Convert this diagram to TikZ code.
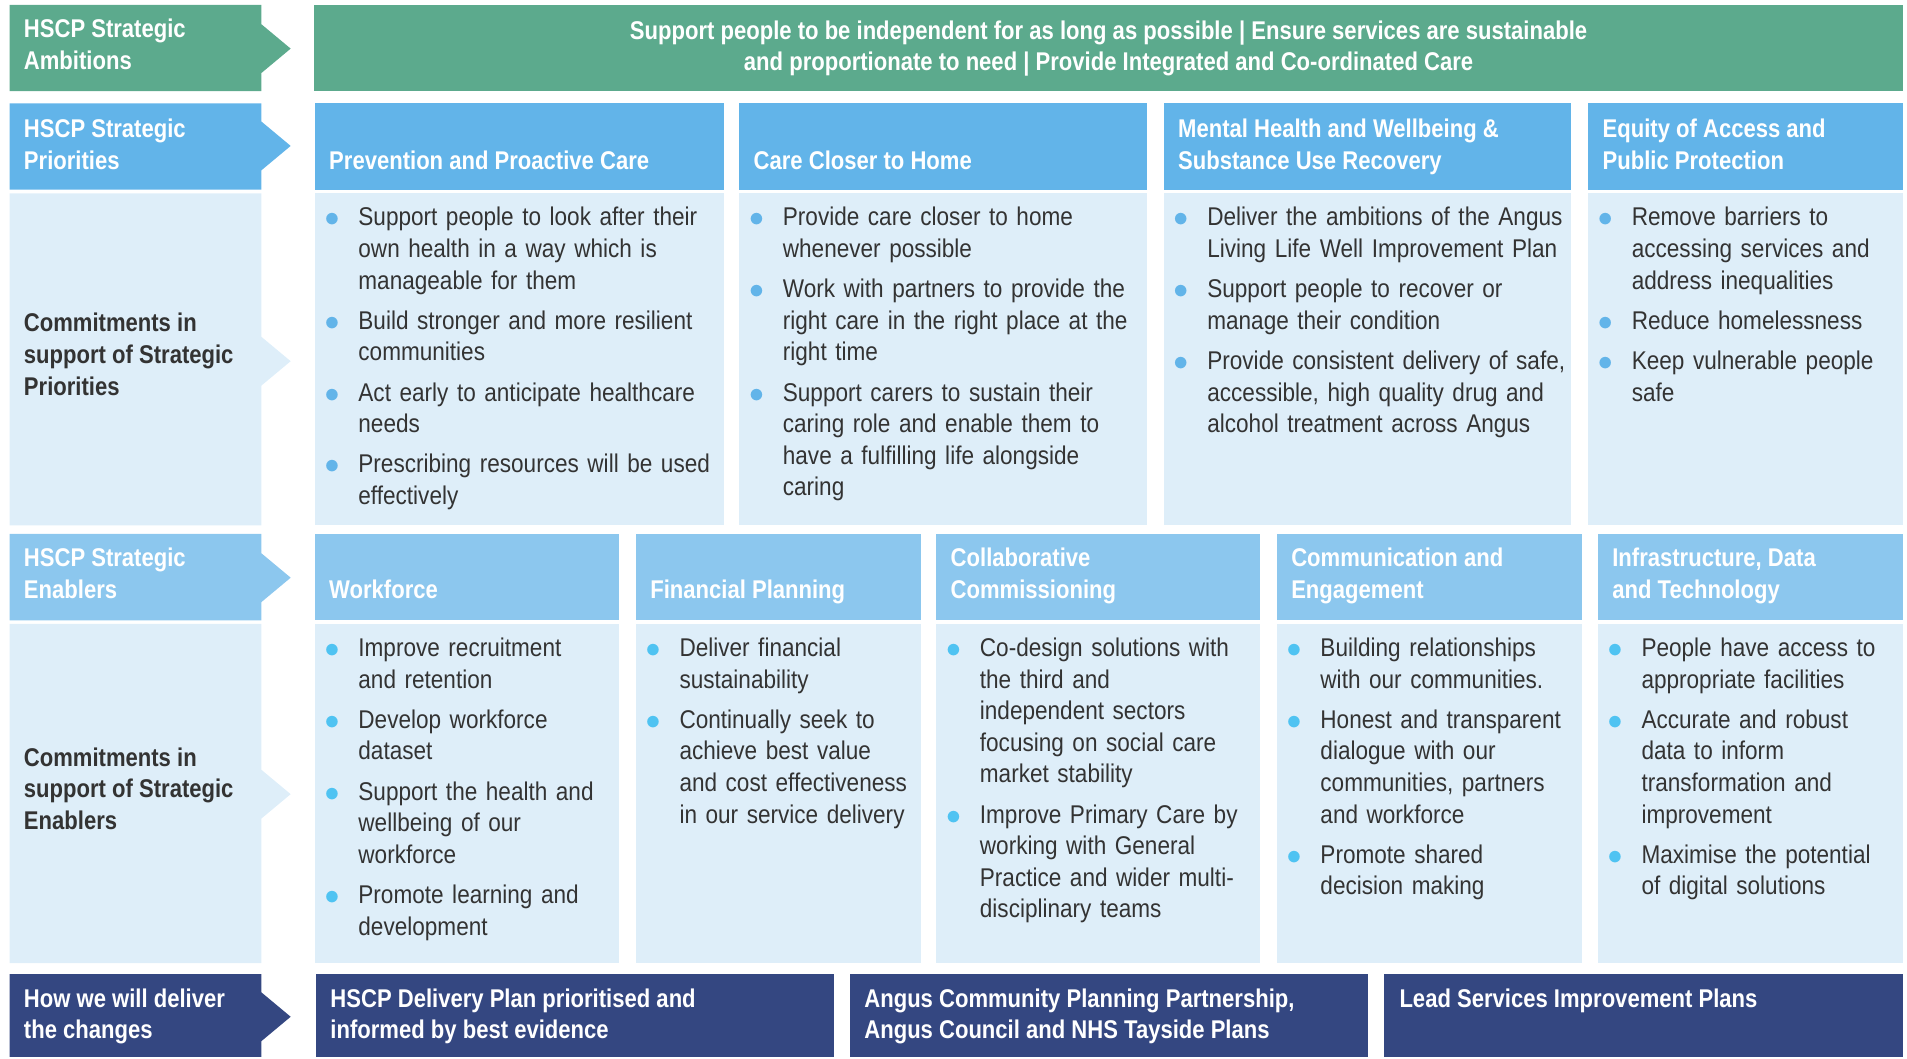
\documentclass[tikz,border=0pt]{standalone}
\usepackage{fontspec}
\setmainfont{Liberation Sans}[FakeStretch=0.88, BoldFeatures={FakeStretch=0.86}]
\usetikzlibrary{positioning}
\definecolor{hgreen}{HTML}{5CAA8D}
\definecolor{hblue}{HTML}{62B4E9}
\definecolor{hsky}{HTML}{8CC7EE}
\definecolor{hpale}{HTML}{DEEEF9}
\definecolor{hnavy}{HTML}{344781}
\definecolor{hdot}{HTML}{62B4E9}
\definecolor{hcyan}{HTML}{4FC3F2}
\definecolor{htext}{HTML}{333333}

\newcommand{\hfont}{\fontsize{6}{7.4}\selectfont}

% bullet list for the commitment boxes
\newenvironment{hlist}[1]{%
  \begin{list}{\textcolor{#1}{$\bullet$}}{%
    \setlength{\leftmargin}{0.35cm}\setlength{\labelwidth}{0.3cm}%
    \setlength{\labelsep}{0.15cm}\setlength{\itemsep}{2pt}\setlength{\itemindent}{0pt}%
    \setlength{\parsep}{0pt}\setlength{\topsep}{0pt}\setlength{\partopsep}{0pt}}}%
  {\end{list}}

% row label on the left with its point: colour, top, bottom, middle
\newcommand{\rowtag}[4]{%
  \fill[#1] (0.08,#2) -- (2.15,#2) -- (2.15,#4+0.2) -- (2.39,#4)
    -- (2.15,#4-0.2) -- (2.15,#3) -- (0.08,#3) -- cycle;}

% base of a tag or head node is the baseline of its last line
\tikzset{
  tag/.style={anchor=base west, align=left, inner sep=0, font=\hfont\bfseries, text=white},
  head/.style={anchor=base west, align=left, inner sep=0, font=\hfont\bfseries, text=white},
  body/.style={anchor=north west, inner sep=0, text width=5cm, align=left, font=\hfont, text=htext}
}

\begin{document}
\begin{tikzpicture}
  \useasboundingbox (0,0) rectangle (15.68,-8.70);

  % ambitions
  \rowtag{hgreen}{-0.04}{-0.75}{-0.40}
  \fill[hgreen] (2.58,-0.04) rectangle (15.65,-0.75);
  \node[tag] (ambtag) at (0.19,-0.57) {HSCP Strategic\\Ambitions};
  \node[head, anchor=center, align=center] (ambtext) at (9.115,-0.40)
    {Support people to be independent for as long as possible | Ensure services are sustainable\\
     and proportionate to need | Provide Integrated and Co-ordinated Care};

  % priorities
  \rowtag{hblue}{-0.85}{-1.56}{-1.20}
  \fill[hblue] (2.59,-0.85) rectangle (5.95,-1.56);
  \fill[hblue] (6.08,-0.85) rectangle (9.43,-1.56);
  \fill[hblue] (9.57,-0.85) rectangle (12.92,-1.56);
  \fill[hblue] (13.06,-0.85) rectangle (15.65,-1.56);
  \node[tag] (pritag) at (0.19,-1.39) {HSCP Strategic\\Priorities};
  \node[head] (pri1) at (2.70,-1.39) {Prevention and Proactive Care};
  \node[head] (pri2) at (6.19,-1.39) {Care Closer to Home};
  \node[head] (pri3) at (9.68,-1.39) {Mental Health and Wellbeing \&\\Substance Use Recovery};
  \node[head] (pri4) at (13.17,-1.39) {Equity of Access and\\Public Protection};

  % commitments for the priorities
  \rowtag{hpale}{-1.59}{-4.32}{-2.97}
  \fill[hpale] (2.59,-1.59) rectangle (5.95,-4.32);
  \fill[hpale] (6.08,-1.59) rectangle (9.43,-4.32);
  \fill[hpale] (9.57,-1.59) rectangle (12.92,-4.32);
  \fill[hpale] (13.06,-1.59) rectangle (15.65,-4.32);
  \node[tag, text=htext] (pricom) at (0.19,-3.25) {Commitments in\\support of Strategic\\Priorities};
  \node[body] (pribody1) at (2.59,-1.59) {\begin{hlist}{hdot}
    \item Support people to look after their\\own health in a way which is\\manageable for them
    \item Build stronger and more resilient\\communities
    \item Act early to anticipate healthcare\\needs
    \item Prescribing resources will be used\\effectively
  \end{hlist}};
  \node[body] (pribody2) at (6.08,-1.59) {\begin{hlist}{hdot}
    \item Provide care closer to home\\whenever possible
    \item Work with partners to provide the\\right care in the right place at the\\right time
    \item Support carers to sustain their\\caring role and enable them to\\have a fulfilling life alongside\\caring
  \end{hlist}};
  \node[body] (pribody3) at (9.57,-1.59) {\begin{hlist}{hdot}
    \item Deliver the ambitions of the Angus\\Living Life Well Improvement Plan
    \item Support people to recover or\\manage their condition
    \item Provide consistent delivery of safe,\\accessible, high quality drug and\\alcohol treatment across Angus
  \end{hlist}};
  \node[body] (pribody4) at (13.06,-1.59) {\begin{hlist}{hdot}
    \item Remove barriers to\\accessing services and\\address inequalities
    \item Reduce homelessness
    \item Keep vulnerable people\\safe
  \end{hlist}};

  % enablers
  \rowtag{hsky}{-4.39}{-5.10}{-4.75}
  \fill[hsky] (2.59,-4.39) rectangle (5.09,-5.10);
  \fill[hsky] (5.23,-4.39) rectangle (7.57,-5.10);
  \fill[hsky] (7.70,-4.39) rectangle (10.36,-5.10);
  \fill[hsky] (10.50,-4.39) rectangle (13.01,-5.10);
  \fill[hsky] (13.14,-4.39) rectangle (15.65,-5.10);
  \node[tag] (entag) at (0.19,-4.92) {HSCP Strategic\\Enablers};
  \node[head] (en1) at (2.70,-4.92) {Workforce};
  \node[head] (en2) at (5.34,-4.92) {Financial Planning};
  \node[head] (en3) at (7.81,-4.92) {Collaborative\\Commissioning};
  \node[head] (en4) at (10.61,-4.92) {Communication and\\Engagement};
  \node[head] (en5) at (13.25,-4.92) {Infrastructure, Data\\and Technology};

  % commitments for the enablers
  \rowtag{hpale}{-5.13}{-7.92}{-6.53}
  \fill[hpale] (2.59,-5.13) rectangle (5.09,-7.92);
  \fill[hpale] (5.23,-5.13) rectangle (7.57,-7.92);
  \fill[hpale] (7.70,-5.13) rectangle (10.36,-7.92);
  \fill[hpale] (10.50,-5.13) rectangle (13.01,-7.92);
  \fill[hpale] (13.14,-5.13) rectangle (15.65,-7.92);
  \node[tag, text=htext] (encom) at (0.19,-6.82) {Commitments in\\support of Strategic\\Enablers};
  \node[body] (enbody1) at (2.59,-5.13) {\begin{hlist}{hcyan}
    \item Improve recruitment\\and retention
    \item Develop workforce\\dataset
    \item Support the health and\\wellbeing of our\\workforce
    \item Promote learning and\\development
  \end{hlist}};
  \node[body] (enbody2) at (5.23,-5.13) {\begin{hlist}{hcyan}
    \item Deliver financial\\sustainability
    \item Continually seek to\\achieve best value\\and cost effectiveness\\in our service delivery
  \end{hlist}};
  \node[body] (enbody3) at (7.70,-5.13) {\begin{hlist}{hcyan}
    \item Co-design solutions with\\the third and\\independent sectors\\focusing on social care\\market stability
    \item Improve Primary Care by\\working with General\\Practice and wider multi-\\disciplinary teams
  \end{hlist}};
  \node[body] (enbody4) at (10.50,-5.13) {\begin{hlist}{hcyan}
    \item Building relationships\\with our communities.
    \item Honest and transparent\\dialogue with our\\communities, partners\\and workforce
    \item Promote shared\\decision making
  \end{hlist}};
  \node[body] (enbody5) at (13.14,-5.13) {\begin{hlist}{hcyan}
    \item People have access to\\appropriate facilities
    \item Accurate and robust\\data to inform\\transformation and\\improvement
    \item Maximise the potential\\of digital solutions
  \end{hlist}};

  % delivery
  \rowtag{hnavy}{-8.01}{-8.69}{-8.36}
  \fill[hnavy] (2.60,-8.01) rectangle (6.86,-8.69);
  \fill[hnavy] (6.99,-8.01) rectangle (11.25,-8.69);
  \fill[hnavy] (11.38,-8.01) rectangle (15.65,-8.69);
  \node[tag] (deltag) at (0.19,-8.54) {How we will deliver\\the changes};
  \node[head] (del1) at (2.71,-8.54) {HSCP Delivery Plan prioritised and\\informed by best evidence};
  \node[head] (del2) at (7.10,-8.54) {Angus Community Planning Partnership,\\Angus Council and NHS Tayside Plans};
  \node[head] (del3) at (11.50,-8.28) {Lead Services Improvement Plans};
\end{tikzpicture}
\end{document}
